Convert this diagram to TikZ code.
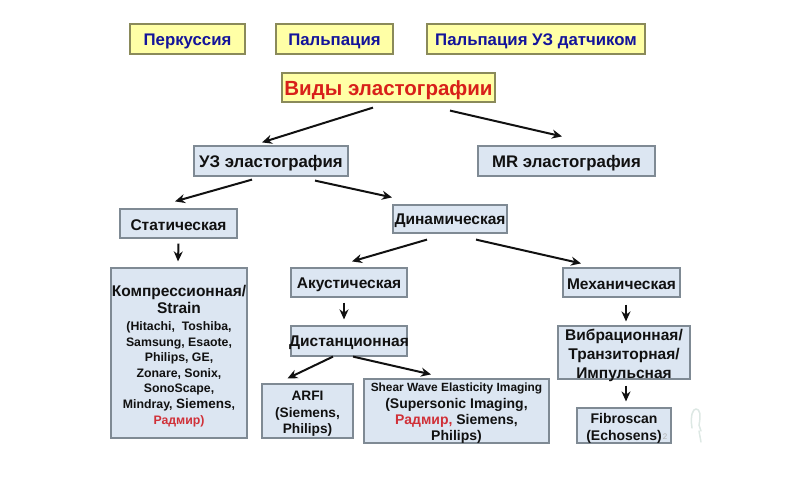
\documentclass[tikz,border=0pt]{standalone}
\usepackage{fontspec}
\setmainfont{Liberation Sans}
\usetikzlibrary{arrows.meta}
\definecolor{bluefill}{HTML}{DCE6F2}
\definecolor{yellowfill}{HTML}{FFFFA6}
\definecolor{edgegrey}{HTML}{7F8A94}
\definecolor{edgeolive}{HTML}{8A8A5A}
\definecolor{navytext}{HTML}{14149A}
\definecolor{redtext}{HTML}{D8201A}
\definecolor{softred}{HTML}{D03038}
\definecolor{inkblack}{HTML}{111111}
\definecolor{faintmark}{HTML}{DDE8E4}
\newcommand{\midblock}[2]{\raisebox{#1pt}[0pt][0pt]{$\vcenter{\hbox{\begin{tabular}{@{}c@{}}#2\end{tabular}}}$}}
\tikzset{
  box/.style={draw=edgegrey,line width=1.2pt,fill=bluefill,inner sep=0pt,align=center,text=inkblack,font=\bfseries\fontsize{15.5}{19}\selectfont,execute at begin node={\rule{0pt}{0.95em}}},
  topbox/.style={draw=edgeolive,line width=1.2pt,fill=yellowfill,inner sep=0pt,align=center,text=navytext,font=\bfseries\fontsize{16.8}{19}\selectfont,execute at begin node={\rule{0pt}{0.95em}}},
  bigrow/.style={font=\bfseries\fontsize{16.8}{19}\selectfont},
  block/.style={execute at begin node={}},
  link/.style={draw=inkblack,line width=2pt,-{Stealth[length=10pt,width=9pt]}},
  sz/.style n args={2}{minimum width=#1pt,minimum height=#2pt}
}
\begin{document}
\begin{tikzpicture}[x=1pt,y=-1pt]
\useasboundingbox (0,0) rectangle (800,480);
\node[topbox,sz={115}{30}] (perc) at (187.5,39) {Перкуссия};
\node[topbox,sz={117}{30}] (palp) at (334.5,39) {Пальпация};
\node[topbox,sz={218}{30}] (palpuz) at (536,39) {Пальпация УЗ датчиком};
\node[topbox,sz={213}{29},text=redtext,font=\bfseries\fontsize{20.5}{22}\selectfont] (types) at (388.5,87.5) {Виды эластографии};
\node[box,bigrow,sz={154}{30}] (uz) at (271,161) {УЗ эластография};
\node[box,bigrow,sz={177}{30}] (mr) at (566.5,161) {MR эластография};
\node[box,sz={117}{29}] (stat) at (178.5,223.5) {Статическая};
\node[box,sz={114}{28}] (dyn) at (450,219) {\makebox[114pt]{Динамическая}};
\node[box,block,sz={136}{170},font=\bfseries\fontsize{12.3}{15.6}\selectfont] (comp) at (179,353) {\midblock{-1}{{\fontsize{15.5}{18}\selectfont Компрессионная/}\\[2pt]{\fontsize{15.5}{18}\selectfont Strain}\\[1pt](Hitachi,\ \ Toshiba,\\Samsung, Esaote,\\Philips,\ GE,\\Zonare, Sonix,\\SonoScape,\\Mindray, {\fontsize{13.5}{15.6}\selectfont Siemens},\\\textcolor{softred}{Радмир)}}};
\node[box,sz={116}{29}] (acu) at (349,282.5) {Акустическая};
\node[box,sz={117}{29}] (mech) at (621.5,282.5) {Механическая};
\node[box,sz={116}{30}] (dist) at (349,341) {\makebox[116pt]{Дистанционная}};
\node[box,block,sz={132}{53},font=\bfseries\fontsize{15.5}{19}\selectfont] (vib) at (624,352.5) {\midblock{1}{Вибрационная/\\Транзиторная/\\Импульсная}};
\node[box,block,sz={91}{54},font=\bfseries\fontsize{13.7}{16.5}\selectfont] (arfi) at (307.5,411) {\midblock{0}{ARFI\\(Siemens,\\Philips)}};
\node[box,block,sz={185}{64},font=\bfseries\fontsize{14}{16.3}\selectfont] (shear) at (456.5,411) {\midblock{1}{{\fontsize{11.9}{14}\selectfont Shear Wave Elasticity Imaging}\\(Supersonic Imaging,\\\textcolor{softred}{Радмир,} Siemens,\\Philips)}};
\node[box,block,sz={94}{35},font=\bfseries\fontsize{14}{16.5}\selectfont] (fibro) at (624,425.5) {\midblock{0}{Fibroscan\\(Echosens)}};
\node[text=black!30,font=\fontsize{8}{8}\selectfont,inner sep=0pt] (pagenum) at (665,437) {2};
\draw[link] ([xshift=-15.5pt,yshift=-5pt]types.south) -- ([xshift=-9pt,yshift=3pt]uz.north);
\draw[link] ([xshift=61.5pt,yshift=-8pt]types.south) -- ([xshift=-4.5pt,yshift=9pt]mr.north);
\draw[link] ([xshift=-19pt,yshift=-3pt]uz.south) -- ([xshift=-3.5pt,yshift=7pt]stat.north);
\draw[link] ([xshift=44pt,yshift=-4pt]uz.south) -- ([xshift=-58pt,yshift=7pt]dyn.north);
\draw[link] ([yshift=-5pt]stat.south) -- ([xshift=-1pt,yshift=6pt]comp.north);
\draw[link] ([xshift=-23pt,yshift=-6pt]dyn.south) -- ([xshift=3pt,yshift=6pt]acu.north);
\draw[link] ([xshift=26pt,yshift=-6pt]dyn.south) -- ([xshift=-40.5pt,yshift=4pt]mech.north);
\draw[link] ([xshift=-5pt,yshift=-5pt]acu.south) -- ([xshift=-5pt,yshift=6pt]dist.north);
\draw[link] ([xshift=-16pt]dist.south) -- ([xshift=-20pt,yshift=5pt]arfi.north);
\draw[link] ([xshift=4pt]dist.south) -- ([xshift=-25.5pt,yshift=4pt]shear.north);
\draw[link] ([xshift=4.5pt,yshift=-7pt]mech.south) -- ([xshift=2pt,yshift=4pt]vib.north);
\draw[link] ([xshift=2pt,yshift=-6pt]vib.south) -- ([xshift=2pt,yshift=6pt]fibro.north);
\draw[faintmark,line width=1.5pt,line cap=round] (692,428) .. controls (690,415) and (693,409) .. (696,409) .. controls (700,409) and (701,415) .. (699,425) -- (701,431) (699,431) -- (701,442);
\end{tikzpicture}
\end{document}
